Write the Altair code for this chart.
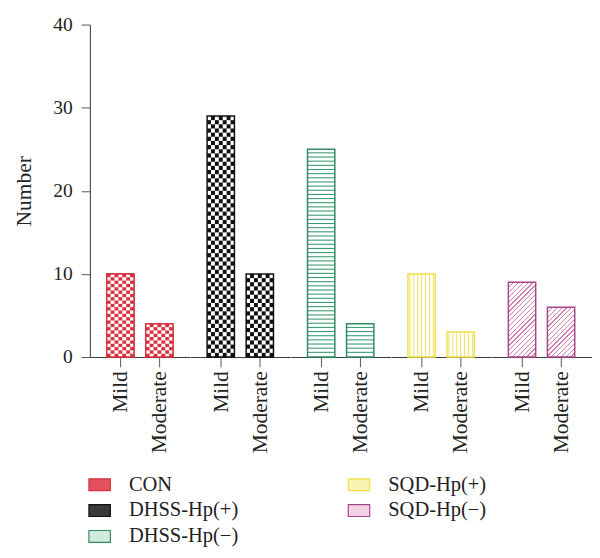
import altair as alt
import pandas as pd

# ---- data ----
groups = ["CON", "DHSS-Hp(+)", "DHSS-Hp(\u2212)", "SQD-Hp(+)", "SQD-Hp(\u2212)"]
severities = ["Mild", "Moderate"]
mild = [10, 29, 25, 10, 9]
moderate = [4, 10, 4, 3, 6]
y_ticks = [0, 10, 20, 30, 40]

legend_fill = ["#e2525e", "#3a3a3a", "#d2e9dc", "#fbf3b4", "#f1d3e5"]
outline = ["#d8313f", "#111111", "#2e8b62", "#efdf48", "#a8458a"]

RED = "#d8313f"
BLACK = "#111111"
GREEN = "#3a9a70"
YELLOW = "#f1e255"
PINK_LINE = "#d27db4"

rows = []
for g, a, b in zip(groups, mild, moderate):
    rows.append({"group": g, "severity": "Mild", "value": a})
    rows.append({"group": g, "severity": "Moderate", "value": b})
df = pd.DataFrame(rows)

# ---- geometry (style) ----
PW = 102.5
PH = 341
P_IN = 0.3
P_OUT = 0.43
step = PW / (2 - P_IN + 2 * P_OUT)
bw = step * (1 - P_IN)
unit = PH / 40.0

SERIF = "Liberation Serif"
AX = "#333333"

X = alt.X("severity:N", sort=severities,
          scale=alt.Scale(paddingInner=P_IN, paddingOuter=P_OUT),
          axis=alt.Axis(title=None, labelAngle=-90, labelAlign="right", labelBaseline="middle",
                        labelFont=SERIF, labelFontSize=22, labelColor="#222222", grid=False,
                        tickSize=10, tickColor="#555555", domainColor=AX, labelPadding=4))
XO = alt.XOffset("c:O", scale=alt.Scale(paddingInner=0, paddingOuter=0))

yaxis = alt.Axis(values=y_ticks, title="Number", titleFont=SERIF, titleFontSize=22,
                 titleFontWeight="normal", titleColor="#222222", titlePadding=18,
                 labelFont=SERIF, labelFontSize=20, labelColor="#222222", labelPadding=9,
                 tickSize=9, tickColor="#555555", domainColor=AX, grid=False)


def Y(f, with_axis):
    return alt.Y(f, scale=alt.Scale(domain=[0, 40], nice=False, zero=True),
                 axis=yaxis if with_axis else None)


def diag_gradient(val):
    h = val * unit
    w = bw
    k = h * (w + h) / (w * w + h * h)
    n = int(round((w + h) / 5.0))
    lw = 1.3 / (w + h)
    stops = []
    for i in range(n):
        a = i / n
        b = min(a + lw, 1.0)
        stops += [{"offset": a, "color": "white"}, {"offset": a, "color": PINK_LINE},
                  {"offset": b, "color": PINK_LINE}, {"offset": b, "color": "white"}]
    stops.append({"offset": 1.0, "color": "white"})
    return {"gradient": "linear", "x1": 0, "y1": 0, "x2": k * w / h, "y2": k, "stops": stops}


NOVIEW = alt.ViewBackground(stroke="transparent", strokeWidth=0, strokeOpacity=0)


def panel(i):
    g = groups[i]
    ax = (i == 0)
    base = alt.Chart().transform_filter(alt.datum.group == g)
    layers = []
    if ax:
        layers.append(base.mark_bar(strokeWidth=1.2).encode(
            x=X, y=Y("value:Q", ax),
            fill=alt.Fill("group:N", scale=alt.Scale(domain=groups, range=legend_fill),
                          legend=alt.Legend(title=None, orient="none", legendX=-2, legendY=460,
                                            columns=2, columnPadding=109, rowPadding=4.5,
                                            symbolType="M-1,-0.55H1V0.55H-1Z", symbolSize=484,
                                            symbolStrokeWidth=1.2, labelFont=SERIF,
                                            labelFontSize=21, labelColor="#222222",
                                            labelOffset=18)),
            stroke=alt.Stroke("group:N", scale=alt.Scale(domain=groups, range=outline)),
        ))
    layers.append(base.mark_bar(color="white").encode(x=X, y=Y("value:Q", ax)))

    if i in (0, 1):
        rh = 0.4 if i == 0 else 0.5
        color = RED if i == 0 else BLACK
        layers.append(
            base.transform_calculate(r=f"sequence(0, ceil(datum.value / {rh}))")
            .transform_flatten(["r"])
            .transform_calculate(c="sequence(0, 7)")
            .transform_flatten(["c"])
            .transform_filter("(datum.r + datum.c) % 2 == 0")
            .transform_calculate(y0=f"datum.r * {rh}",
                                 y1=f"min((datum.r + 1) * {rh}, datum.value)")
            .mark_rect(color=color)
            .encode(x=X, xOffset=XO, y=Y("y0:Q", ax), y2="y1:Q"))
    elif i == 2:
        layers.append(
            base.transform_calculate(s="sequence(0.5, datum.value, 0.5)")
            .transform_flatten(["s"])
            .transform_calculate(s2="datum.s + 0.13")
            .mark_rect(color=GREEN)
            .encode(x=X, y=Y("s:Q", ax), y2="s2:Q"))
    elif i == 3:
        layers.append(
            base.transform_calculate(c="sequence(0, 7)")
            .transform_flatten(["c"])
            .transform_calculate(z="0")
            .mark_rule(color=YELLOW, strokeWidth=1)
            .encode(x=X, xOffset=XO, y=Y("z:Q", ax), y2="value:Q"))
    else:
        for sev, val in zip(severities, [mild[4], moderate[4]]):
            layers.append(
                base.transform_filter(alt.datum.severity == sev)
                .mark_bar(fill=diag_gradient(val), strokeWidth=0)
                .encode(x=X, y=Y("value:Q", ax)))

    layers.append(base.mark_bar(fillOpacity=0, stroke=outline[i], strokeWidth=1.5)
                  .encode(x=X, y=Y("value:Q", ax)))
    return alt.layer(*layers).properties(width=PW, height=PH, view=NOVIEW)


PAD = {"left": 5, "top": 0, "right": 0, "bottom": 0}
chart = (alt.hconcat(*[panel(i) for i in range(len(groups))], spacing=0, data=df)
         .properties(padding=PAD)
         .configure_view(stroke=None, strokeWidth=0)
         .configure_axis(grid=False)
         .configure(background="white"))

chart.save("out.html", embed_options={"renderer": "svg", "actions": False})
